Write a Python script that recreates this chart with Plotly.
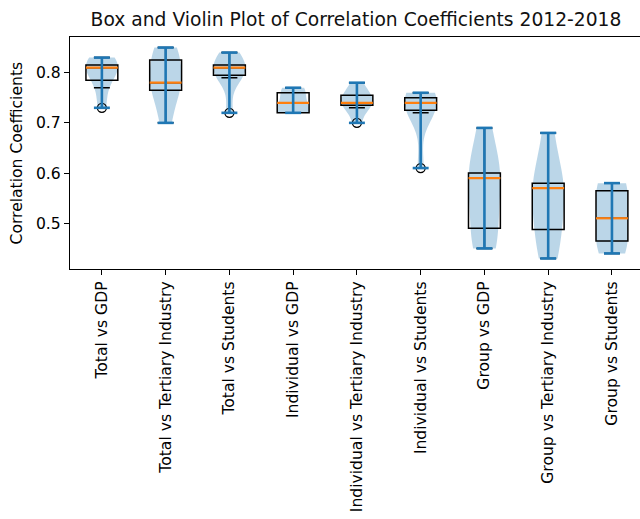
import numpy as np
import plotly.graph_objects as go

# Correlation coefficients for each pairing, one value per year 2012-2018
categories = [
    "Total vs GDP",
    "Total vs Tertiary Industry",
    "Total vs Students",
    "Individual vs GDP",
    "Individual vs Tertiary Industry",
    "Individual vs Students",
    "Group vs GDP",
    "Group vs Tertiary Industry",
    "Group vs Students",
]
total_gdp = [0.73, 0.77, 0.80, 0.81, 0.81, 0.82, 0.83]
total_tertiary = [0.70, 0.75, 0.78, 0.78, 0.81, 0.84, 0.85]
total_students = [0.72, 0.79, 0.80, 0.81, 0.81, 0.82, 0.84]
individual_gdp = [0.72, 0.72, 0.72, 0.74, 0.75, 0.77, 0.77]
individual_tertiary = [0.70, 0.73, 0.74, 0.74, 0.75, 0.76, 0.78]
individual_students = [0.61, 0.72, 0.73, 0.74, 0.74, 0.76, 0.76]
group_gdp = [0.45, 0.47, 0.51, 0.59, 0.59, 0.61, 0.69]
group_tertiary = [0.43, 0.47, 0.505, 0.57, 0.57, 0.59, 0.68]
group_students = [0.44, 0.45, 0.48, 0.51, 0.55, 0.58, 0.58]

series = [total_gdp, total_tertiary, total_students,
          individual_gdp, individual_tertiary, individual_students,
          group_gdp, group_tertiary, group_students]
positions = list(range(1, len(categories) + 1))

FONT = "DejaVu Sans"
BLUE = "#1f77b4"
ORANGE = "#ff7f0e"
TICK_SIZE = 15.6

fig = go.Figure()

# Violin bodies (Gaussian KDE, Scott bandwidth, clipped to the data range)
for pos, vals in zip(positions, series):
    arr = np.asarray(vals)
    bw = arr.std(ddof=1) * len(arr) ** (-1 / 5)
    fig.add_trace(go.Violin(
        y=vals, x0=pos, width=0.5, scalemode="width", spanmode="hard",
        bandwidth=bw, side="both", points=False,
        fillcolor="rgba(31,119,180,0.3)",
        line=dict(color="rgba(31,119,180,0)", width=0),
        box_visible=False, meanline_visible=False, hoverinfo="skip",
    ))

# Box plots with 1.5*IQR whiskers and hollow outlier markers
for pos, vals in zip(positions, series):
    fig.add_trace(go.Box(
        y=vals, x0=pos, width=0.5, quartilemethod="inclusive",
        boxpoints="outliers", jitter=0, pointpos=0, whiskerwidth=0.5,
        fillcolor="rgba(0,0,0,0)",
        line=dict(color="black", width=1.5),
        marker=dict(symbol="circle-open", color="black", size=9,
                    line=dict(width=1.3, color="black")),
    ))

# Orange median lines
mx, my = [], []
for pos, vals in zip(positions, series):
    med = float(np.median(vals))
    mx += [pos - 0.25, pos + 0.25, None]
    my += [med, med, None]
fig.add_trace(go.Scatter(x=mx, y=my, mode="lines",
                         line=dict(color=ORANGE, width=2.2), hoverinfo="skip"))

# Violin extrema bars and centre line
bx, by = [], []
for pos, vals in zip(positions, series):
    lo, hi = min(vals), max(vals)
    bx += [pos, pos, None, pos - 0.125, pos + 0.125, None, pos - 0.125, pos + 0.125, None]
    by += [lo, hi, None, lo, lo, None, hi, hi, None]
fig.add_trace(go.Scatter(x=bx, y=by, mode="lines",
                         line=dict(color=BLUE, width=2.6), hoverinfo="skip"))

fig.update_layout(
    width=640, height=519,
    margin=dict(l=70, r=0, t=37, b=250),
    paper_bgcolor="white", plot_bgcolor="white",
    showlegend=False, boxmode="overlay", violinmode="overlay",
    font=dict(family=FONT, size=TICK_SIZE, color="black"),
    title=dict(text="Box and Violin Plot of Correlation Coefficients 2012-2018",
               x=356 / 640, xref="container", xanchor="center",
               y=1 - 19.5 / 519, yref="container", yanchor="middle",
               font=dict(family=FONT, size=18.7, color="#111111")),
)
fig.update_xaxes(
    range=[0.5, 9.44], tickmode="array", tickvals=positions, ticktext=categories,
    tickangle=-90, ticks="outside", ticklen=5, tickwidth=1.2, tickcolor="black",
    showline=True, linecolor="black", linewidth=1.3, mirror=True,
    showgrid=False, zeroline=False, automargin=False,
    tickfont=dict(family=FONT, size=TICK_SIZE, color="black"),
)
fig.update_yaxes(
    range=[0.409, 0.871], tickmode="array", tickvals=[0.5, 0.6, 0.7, 0.8],
    ticktext=["0.5", "0.6", "0.7", "0.8"],
    ticks="outside", ticklen=5, tickwidth=1.2, tickcolor="black",
    showline=True, linecolor="black", linewidth=1.3, mirror=False,
    showgrid=False, zeroline=False, automargin=False,
    tickfont=dict(family=FONT, size=TICK_SIZE, color="black"),
)
fig.add_annotation(
    text="Correlation Coefficients", textangle=-90,
    xref="paper", yref="paper", x=-(70 - 16.5) / 570, y=(269 - 153) / 232,
    xanchor="center", yanchor="middle", showarrow=False,
    font=dict(family=FONT, size=TICK_SIZE, color="black"),
)

fig.write_html("out.html")
